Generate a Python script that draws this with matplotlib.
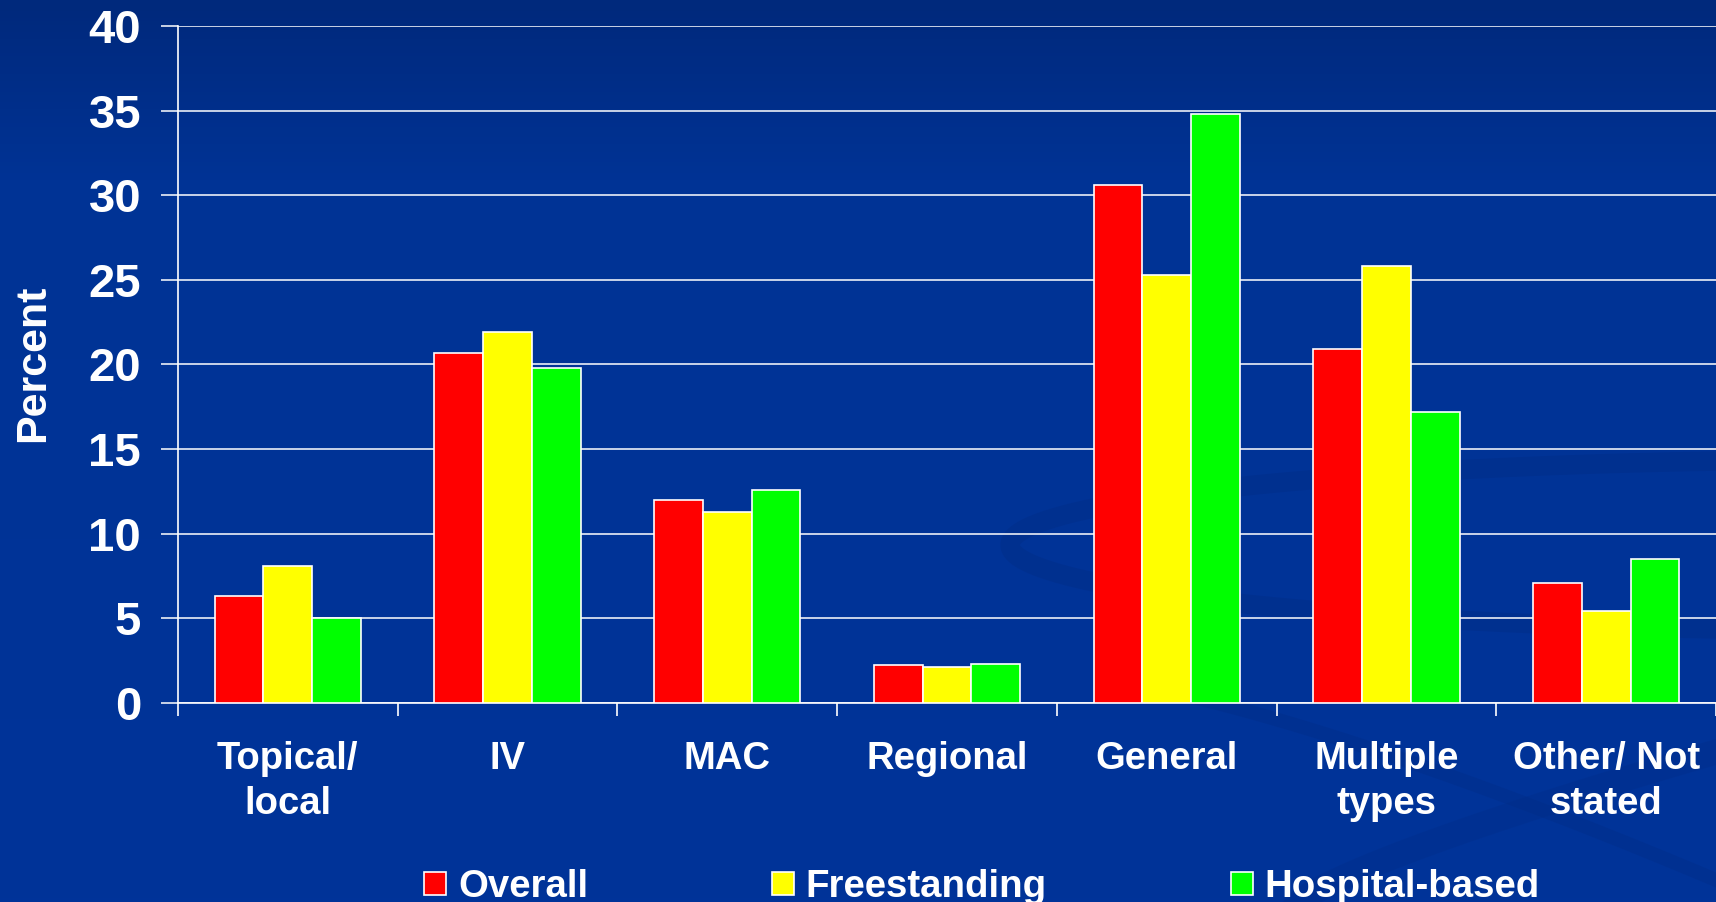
import numpy as np
import matplotlib
matplotlib.use("Agg")
import matplotlib.pyplot as plt
from matplotlib.colors import LinearSegmentedColormap

categories = ["Topical/\nlocal", "IV", "MAC", "Regional", "General", "Multiple\ntypes", "Other/ Not\nstated"]
series_names = ["Overall", "Freestanding", "Hospital-based"]
overall = [6.3, 20.7, 12.0, 2.2, 30.6, 20.9, 7.1]
freestanding = [8.1, 21.9, 11.3, 2.1, 25.3, 25.8, 5.4]
hospital = [5.0, 19.8, 12.6, 2.3, 34.8, 17.2, 8.5]
yticks = [0, 5, 10, 15, 20, 25, 30, 35, 40]
colors = ["#FF0000", "#FFFF00", "#00FF00"]

plt.rcParams['font.family'] = ['Liberation Sans', 'DejaVu Sans']
plt.rcParams['font.weight'] = 'bold'

W, H, DPI = 1716, 902, 100
fig = plt.figure(figsize=(W / DPI, H / DPI), dpi=DPI)

# background gradient + faint decorative swooshes
bg = fig.add_axes([0, 0, 1, 1], zorder=-10)
grad = np.linspace(0, 1, 256).reshape(-1, 1)
cmap = LinearSegmentedColormap.from_list("bg", [(0, "#00297C"), (0.2, "#003395"), (1, "#003399")])
bg.imshow(grad, aspect='auto', cmap=cmap, extent=[0, W, H, 0])
t = np.linspace(np.pi / 2, 3 * np.pi / 2, 300)
bg.plot(1850 + 840 * np.cos(t), 545 - 85 * np.sin(t), color="#002C85", lw=14, alpha=0.4,
        solid_capstyle='round')
t2 = np.linspace(0, 1, 200)
bg.plot(1100 + 616 * t2, 680 + 200 * t2 ** 1.3, color="#002C85", lw=10, alpha=0.35)
bg.plot(1300 + 416 * t2, 902 - 150 * t2 ** 0.8, color="#002C85", lw=18, alpha=0.3)
bg.set_xlim(0, W); bg.set_ylim(H, 0)
bg.axis('off')

left = 178 / W
bottom = 1 - 702.7 / H
top = 1 - 26 / H
ax = fig.add_axes([left, bottom, 1 - left, top - bottom])
ax.patch.set_alpha(0)

x = np.arange(len(categories))
bw = 0.222
for i, (vals, c, name) in enumerate(zip([overall, freestanding, hospital], colors, series_names)):
    ax.bar(x + (i - 1) * bw, vals, width=bw, color=c, edgecolor='white', linewidth=1.2,
           label=name, zorder=3)

ax.set_xlim(-0.5, len(categories) - 0.5)
ax.set_ylim(0, 40)
ax.set_yticks(yticks)
ax.set_yticklabels([str(v) for v in yticks], fontsize=34, fontweight='bold', color='white')
ax.yaxis.grid(True, color='white', linewidth=1.1, zorder=0)
ax.set_axisbelow(True)

ax.set_xticks(x)
ax.set_xticklabels(categories, fontsize=27.5, fontweight='bold', color='white', linespacing=1.32)
ax.set_xticks(np.arange(-0.5, len(categories), 1), minor=True)
ax.tick_params(axis='x', which='major', length=0, pad=27.5)
ax.tick_params(axis='x', which='minor', length=9, width=1.2, color='white', direction='out')
ax.tick_params(axis='y', length=12.5, width=1.1, color='white', direction='out', pad=14)

for s in ['top', 'right']:
    ax.spines[s].set_visible(False)
for s in ['left', 'bottom']:
    ax.spines[s].set_color('white')
    ax.spines[s].set_linewidth(1.2)

fig.text(33 / W, 1 - 363 / H, "Percent", rotation=90, ha='center', va='center',
         fontsize=31, fontweight='bold', color='white')

leg = fig.legend(loc='center', bbox_to_anchor=(982 / W, 1 - 887 / H), ncol=3, frameon=False,
                 fontsize=27.6, handlelength=0.58, handleheight=0.58, handletextpad=0.3,
                 columnspacing=4.8, borderpad=0)
for txt in leg.get_texts():
    txt.set_color('white')
    txt.set_fontweight('bold')

fig.savefig("out.png", dpi=DPI)
